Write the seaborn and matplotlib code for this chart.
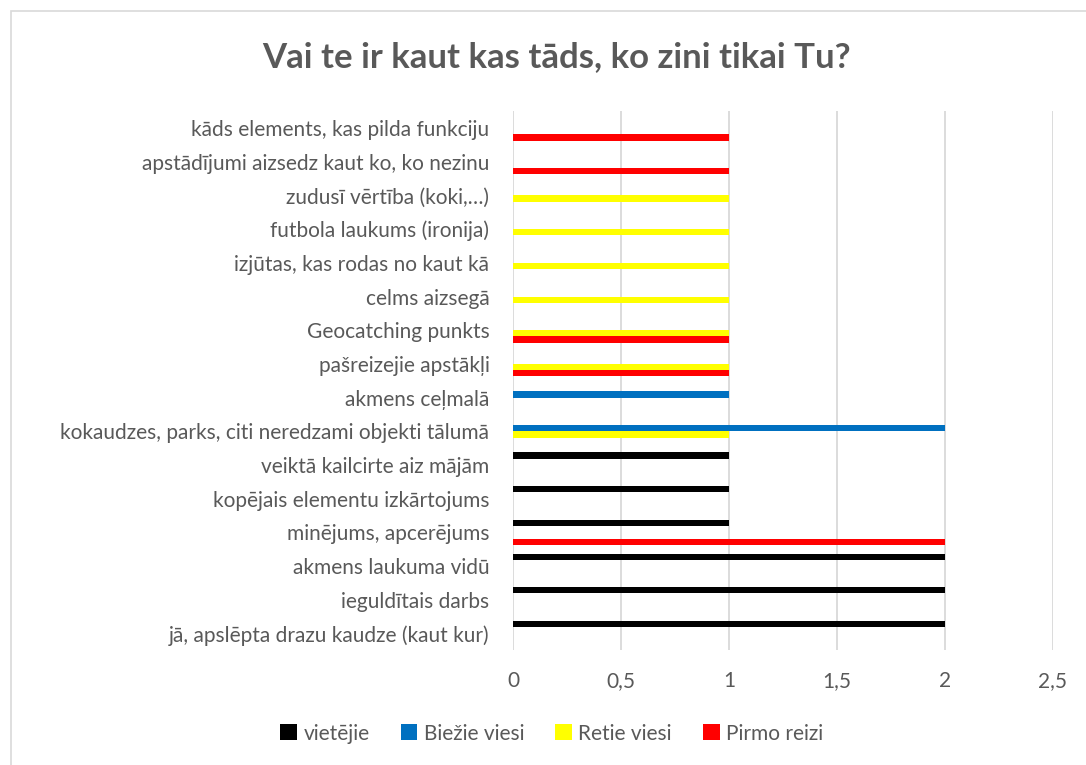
import numpy as np
import pandas as pd
import matplotlib
matplotlib.use("Agg")
import matplotlib.pyplot as plt
import seaborn as sns
from matplotlib.patches import Rectangle
from matplotlib.ticker import FuncFormatter

# categories, top to bottom as shown
categories = [
    "kāds elements, kas pilda funkciju",
    "apstādījumi aizsedz kaut ko, ko nezinu",
    "zudusī vērtība (koki,…)",
    "futbola laukums (ironija)",
    "izjūtas, kas rodas no kaut kā",
    "celms aizsegā",
    "Geocatching punkts",
    "pašreizejie apstākļi",
    "akmens ceļmalā",
    "kokaudzes, parks, citi neredzami objekti tālumā",
    "veiktā kailcirte aiz mājām",
    "kopējais elementu izkārtojums",
    "minējums, apcerējums",
    "akmens laukuma vidū",
    "ieguldītais darbs",
    "jā, apslēpta drazu kaudze (kaut kur)",
]
series = ["vietējie", "Biežie viesi", "Retie viesi", "Pirmo reizi"]
vietejie = [0, 0, 0, 0, 0, 0, 0, 0, 0, 0, 1, 1, 1, 2, 2, 2]
biezie   = [0, 0, 0, 0, 0, 0, 0, 0, 1, 2, 0, 0, 0, 0, 0, 0]
retie    = [0, 0, 1, 1, 1, 1, 1, 1, 0, 1, 0, 0, 0, 0, 0, 0]
pirmo    = [1, 1, 0, 0, 0, 0, 1, 1, 0, 0, 0, 0, 2, 0, 0, 0]
colors = ["#000000", "#0070C0", "#FFFF00", "#FF0000"]

df = pd.DataFrame({"kategorija": categories, series[0]: vietejie, series[1]: biezie,
                   series[2]: retie, series[3]: pirmo})
long = df.melt(id_vars="kategorija", var_name="grupa", value_name="skaits")

sns.set_theme(style="white")
plt.rcParams["font.family"] = ["Lato", "DejaVu Sans"]
gray = "#595959"

fig = plt.figure(figsize=(10.86, 7.65), dpi=100)
ax = fig.add_axes([0.4724, 0.150, 0.4972, 0.7046])
sns.barplot(data=long, y="kategorija", x="skaits", hue="grupa", order=categories,
            hue_order=series, palette=colors, orient="h", width=0.74, gap=0,
            saturation=1, edgecolor="none", linewidth=0, ax=ax, legend=True)

ax.set_xlim(0, 2.5)
ax.set_xticks(np.arange(0, 2.51, 0.5))
ax.xaxis.set_major_formatter(FuncFormatter(lambda v, p: f"{v:g}".replace(".", ",")))
ax.grid(axis="x", color="#D9D9D9", linewidth=1.3)
ax.set_axisbelow(True)
for s in ax.spines.values():
    s.set_visible(False)
ax.set_xlabel("")
ax.set_ylabel("")
ax.tick_params(axis="both", length=0, labelsize=15, colors=gray)
ax.tick_params(axis="x", pad=15)
ax.tick_params(axis="y", pad=17)

handles, labels = ax.get_legend_handles_labels()
ax.legend_.remove()
fig.legend(handles, labels, loc="center", bbox_to_anchor=(0.508, 0.041), ncol=4,
           frameon=False, fontsize=15, handlelength=0.8, handleheight=0.8,
           handletextpad=0.3, columnspacing=1.5, labelcolor=gray)

fig.text(0.512, 0.925, "Vai te ir kaut kas tāds, ko zini tikai Tu?", ha="center",
         va="center", fontsize=25, fontweight="bold", color=gray)

fig.patches.append(Rectangle((0.0105, -0.01), 0.99, 0.995, transform=fig.transFigure,
                             fill=False, edgecolor="#D9D9D9", linewidth=1.2))

fig.savefig("out.png", dpi=100)
